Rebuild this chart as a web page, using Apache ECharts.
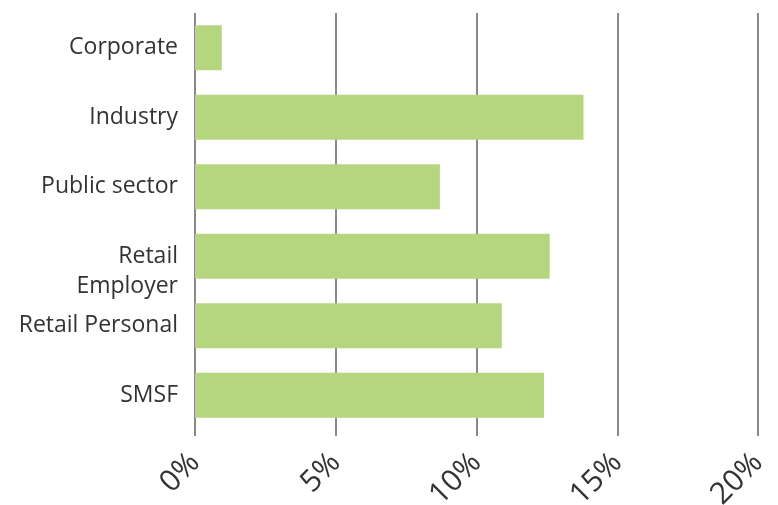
<!DOCTYPE html>
<html>
<head>
<meta charset="utf-8">
<script src="https://cdn.jsdelivr.net/npm/echarts@6/dist/echarts.min.js"></script>
<style>
  html, body { margin: 0; padding: 0; background: #fff; }
  #main { width: 778px; height: 505px; }
</style>
</head>
<body>
<div id="main"></div>
<script>
var categories = ['Corporate', 'Industry', 'Public sector', 'Retail Employer', 'Retail Personal', 'SMSF'];
var shares = [0.95, 13.8, 8.7, 12.6, 10.9, 12.4];
var xTicks = [0, 5, 10, 15, 20];

var myChart = echarts.init(document.getElementById('main'));

var option = {
    animation: false,
    grid: {
        left: 195,
        right: 20,
        top: 13,
        bottom: 75,
        outerBoundsMode: 'none'
    },
    xAxis: {
        type: 'value',
        min: xTicks[0],
        max: xTicks[xTicks.length - 1],
        interval: 5,
        axisLine: { show: false },
        axisTick: {
            show: true,
            length: 6,
            lineStyle: { color: '#8a8a8a', width: 2 }
        },
        splitLine: {
            show: true,
            lineStyle: { color: '#8a8a8a', width: 2 }
        },
        axisLabel: {
            rotate: 45,
            margin: 28,
            fontFamily: 'Open Sans',
            fontSize: 30,
            color: '#333',
            formatter: '{value}%'
        }
    },
    yAxis: {
        type: 'category',
        inverse: true,
        data: categories,
        axisLine: { show: false },
        axisTick: { show: false },
        axisLabel: {
            margin: 17,
            fontFamily: 'Open Sans',
            fontSize: 23,
            lineHeight: 30,
            color: '#333',
            formatter: function (v) {
                // the two-line label sits a bit lower than its bar
                return v === 'Retail Employer' ? ' \nRetail\nEmployer' : v;
            }
        }
    },
    series: [{
        type: 'bar',
        data: shares,
        barWidth: 45,
        itemStyle: { color: '#b5d67e' }
    }]
};

myChart.setOption(option, true);

window.addEventListener('resize', function () {
    myChart.resize();
});
</script>
</body>
</html>
